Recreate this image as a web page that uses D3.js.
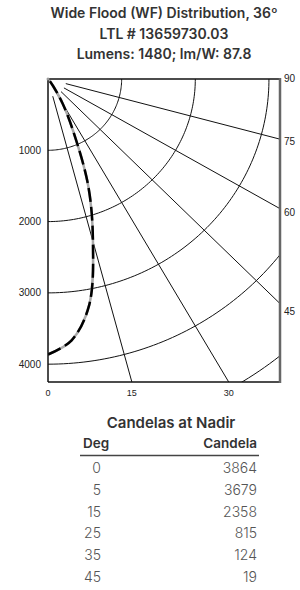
<!DOCTYPE html>
<html>
<head>
<meta charset="utf-8">
<script src="https://cdn.jsdelivr.net/npm/d3@7"></script>
<style>
  body { margin: 0; background: #fff; }
  svg { display: block; }
</style>
</head>
<body>
<svg id="chart" width="300" height="590"></svg>
<script>
// ── Data ──────────────────────────────────────────────────────────────────────
const titleLines = [
  "Wide Flood (WF) Distribution, 36º",
  "LTL # 13659730.03",
  "Lumens: 1480; lm/W: 87.8",
];

// table at nadir
const tableDeg = [0, 5, 15, 25, 35, 45];
const tableCandela = [3864, 3679, 2358, 815, 124, 19];

// polar curve (table values plus a few points)
const curveDeg = [0, 5, 10, 15, 20, 25, 30, 35, 45, 90];
const curveCandela = [3864, 3679, 3220, 2358, 1600, 815, 400, 124, 19, 0];

const ringValues = [1000, 2000, 3000, 4000, 5000];
const candelaTicks = [1000, 2000, 3000, 4000];
const rayAngles = [15, 30, 45, 60, 75];
const rightAngleLabels = [90, 75, 60, 45];
const bottomAngleLabels = [0, 15, 30];

// ── Setup ─────────────────────────────────────────────────────────────────────
const svg = d3.select("#chart");
const plot = { left: 48, right: 280, top: 79, bottom: 382 };

const x = d3.scaleLinear().domain([0, 3150]).range([plot.left, plot.right]);
const y = d3.scaleLinear().domain([0, 4250]).range([plot.top, plot.bottom]);

const rad = (d) => (d * Math.PI) / 180;
const px = (deg, r) => x(r * Math.sin(rad(deg)));
const py = (deg, r) => y(r * Math.cos(rad(deg)));

// title
svg.append("g")
  .selectAll("text")
  .data(titleLines)
  .join("text")
  .attr("x", 164)
  .attr("y", (d, i) => 18 + i * 20.7)
  .attr("text-anchor", "middle")
  .attr("font-family", "Inter, 'Open Sans', sans-serif")
  .attr("font-weight", 600)
  .attr("font-size", "14px")
  .attr("fill", "#333")
  .text((d) => d);

svg.append("clipPath")
  .attr("id", "clip")
  .append("rect")
  .attr("x", plot.left)
  .attr("y", plot.top)
  .attr("width", plot.right - plot.left)
  .attr("height", plot.bottom - plot.top);

const grid = svg.append("g").attr("clip-path", "url(#clip)");

// rings
const arcAngles = d3.range(0, 90.5, 1);
const line = d3.line();
grid.selectAll(".ring")
  .data(ringValues)
  .join("path")
  .attr("class", "ring")
  .attr("d", (r) => line(arcAngles.map((a) => [px(a, r), py(a, r)])))
  .attr("fill", "none")
  .attr("stroke", "#111")
  .attr("stroke-width", 1);

// rays
grid.selectAll(".ray")
  .data(rayAngles)
  .join("line")
  .attr("class", "ray")
  .attr("x1", (a) => px(a, 250))
  .attr("y1", (a) => py(a, 250))
  .attr("x2", (a) => px(a, 8000))
  .attr("y2", (a) => py(a, 8000))
  .attr("stroke", "#111")
  .attr("stroke-width", 1);

// candela curve: grey underneath, black dashes on top
const pts = curveDeg.map((d, i) => [px(d, curveCandela[i]), py(d, curveCandela[i])]);
const curveLine = d3.line().curve(d3.curveCatmullRom.alpha(0.5));
grid.append("path")
  .attr("d", curveLine(pts))
  .attr("fill", "none")
  .attr("stroke", "#aaa")
  .attr("stroke-width", 2.5);
grid.append("path")
  .attr("d", curveLine(pts))
  .attr("fill", "none")
  .attr("stroke", "#000")
  .attr("stroke-width", 2.5)
  .attr("stroke-dasharray", "14,5");

// frame
svg.append("line")
  .attr("x1", plot.left).attr("y1", plot.top)
  .attr("x2", plot.right).attr("y2", plot.top)
  .attr("stroke", "#111").attr("stroke-width", 1.5);
svg.append("line")
  .attr("x1", plot.left).attr("y1", plot.bottom)
  .attr("x2", plot.right).attr("y2", plot.bottom)
  .attr("stroke", "#111").attr("stroke-width", 1.5);
svg.append("line")
  .attr("x1", plot.left).attr("y1", plot.top)
  .attr("x2", plot.left).attr("y2", plot.bottom)
  .attr("stroke", "#111").attr("stroke-width", 1.5);
svg.append("line")
  .attr("x1", plot.right).attr("y1", plot.top - 1)
  .attr("x2", plot.right).attr("y2", plot.bottom + 1)
  .attr("stroke", "#666").attr("stroke-width", 2.5);
svg.append("circle")
  .attr("cx", plot.left).attr("cy", plot.top).attr("r", 1.5)
  .attr("fill", "#999");

// axis labels
const axisFont = "'Liberation Sans', Arial, sans-serif";
svg.append("g")
  .selectAll("text")
  .data(candelaTicks)
  .join("text")
  .attr("x", plot.left - 7)
  .attr("y", (d) => y(d))
  .attr("dy", "0.35em")
  .attr("text-anchor", "end")
  .attr("font-family", axisFont)
  .attr("font-size", "10px")
  .attr("fill", "#222")
  .text((d) => d);

const boxW = plot.right - plot.left;
svg.append("g")
  .selectAll("text")
  .data(rightAngleLabels)
  .join("text")
  .attr("x", plot.right + 4)
  .attr("y", (a) => (a === 90 ? plot.top - 1 : plot.top + boxW / Math.tan(rad(a))))
  .attr("dy", "0.35em")
  .attr("font-family", axisFont)
  .attr("font-size", "10px")
  .attr("fill", "#222")
  .text((d) => d);

svg.append("g")
  .selectAll("text")
  .data(bottomAngleLabels)
  .join("text")
  .attr("x", (a) => x(y.domain()[1] * Math.tan(rad(a))))
  .attr("y", plot.bottom + 14)
  .attr("text-anchor", "middle")
  .attr("font-family", axisFont)
  .attr("font-size", "9px")
  .attr("fill", "#222")
  .text((d) => d);

// ── Table ─────────────────────────────────────────────────────────────────────
const tableFont = "Inter, 'Open Sans', sans-serif";
const degRight = 101;
const cdRight = 257;

svg.append("text")
  .attr("x", 171)
  .attr("y", 428)
  .attr("text-anchor", "middle")
  .attr("font-family", tableFont)
  .attr("font-weight", 600)
  .attr("font-size", "15px")
  .attr("fill", "#333")
  .text("Candelas at Nadir");

svg.append("text")
  .attr("x", 83)
  .attr("y", 448)
  .attr("font-family", tableFont)
  .attr("font-weight", 600)
  .attr("font-size", "13.5px")
  .attr("fill", "#333")
  .text("Deg");

svg.append("text")
  .attr("x", cdRight)
  .attr("y", 448)
  .attr("text-anchor", "end")
  .attr("font-family", tableFont)
  .attr("font-weight", 600)
  .attr("font-size", "13.5px")
  .attr("fill", "#333")
  .text("Candela");

svg.append("line")
  .attr("x1", 80).attr("x2", 259)
  .attr("y1", 455.5).attr("y2", 455.5)
  .attr("stroke", "#444").attr("stroke-width", 1.4);

const rows = svg.append("g")
  .selectAll("g")
  .data(tableDeg.map((d, i) => ({ deg: d, cd: tableCandela[i] })))
  .join("g")
  .attr("transform", (d, i) => `translate(0,${473 + i * 21.8})`);

rows.append("text")
  .attr("x", degRight)
  .attr("text-anchor", "end")
  .attr("font-family", tableFont)
  .attr("font-weight", 300)
  .attr("font-size", "14px")
  .attr("fill", "#555")
  .text((d) => d.deg);

rows.append("text")
  .attr("x", cdRight)
  .attr("text-anchor", "end")
  .attr("font-family", tableFont)
  .attr("font-weight", 300)
  .attr("font-size", "14px")
  .attr("fill", "#555")
  .text((d) => d.cd);
</script>
</body>
</html>
